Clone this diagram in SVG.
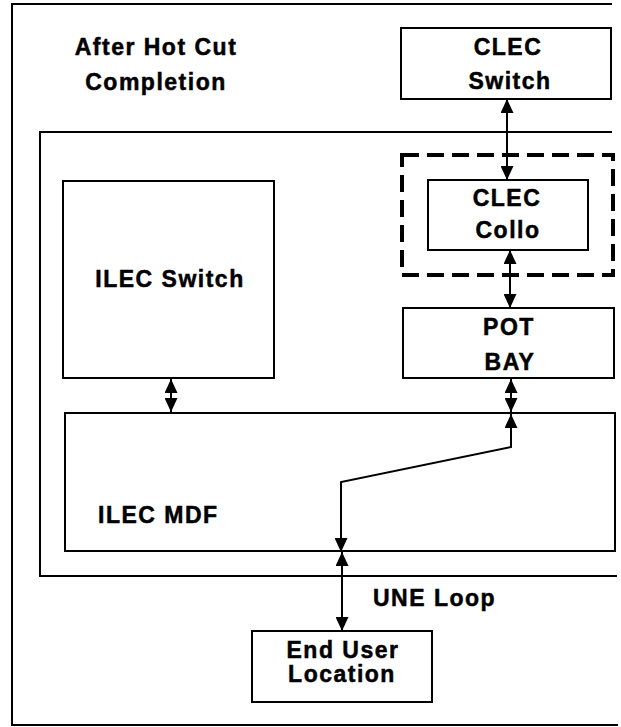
<svg xmlns="http://www.w3.org/2000/svg" width="621" height="727" viewBox="0 0 621 727">
  <style>
    .frame { fill: none; stroke: #000; stroke-width: 2; }
    .box { fill: #fff; stroke: #000; stroke-width: 2; }
    .dash { fill: none; stroke: #000; stroke-width: 4; stroke-dasharray: 17 8; }
    .lbl { font-family: "Liberation Sans", Arial, Helvetica, sans-serif; font-weight: bold; font-size: 23px; letter-spacing: 1.5px; fill: #000; stroke: #000; stroke-width: 0.5px; }
    .mid { text-anchor: middle; }
    .conn { fill: none; stroke: #000; stroke-width: 2; }
  </style>
  <defs>
    <marker id="ah" viewBox="0 0 14 13" refX="14" refY="6.5" markerWidth="14" markerHeight="13" markerUnits="userSpaceOnUse" orient="auto-start-reverse">
      <path d="M0,0 L14,6.5 L0,13 z" fill="#000"/>
    </marker>
  </defs>
  <rect width="621" height="727" fill="#fff"/>

  <g id="outer-frame">
    <path class="frame" d="M612,4 L12,4 L12,725 L618,725"/>
  </g>
  <g id="title">
    <text class="lbl mid" x="156" y="55">After Hot Cut</text>
    <text class="lbl mid" x="156" y="90">Completion</text>
  </g>
  <g id="ilec-building">
    <path class="frame" d="M612,132 L40,132 L40,576 L617,576"/>
  </g>
  <g id="clec-switch">
    <rect class="box" x="401" y="28" width="210" height="71"/>
    <text class="lbl mid" x="508" y="55">CLEC</text>
    <text class="lbl mid" x="510" y="89">Switch</text>
  </g>
  <g id="collo-boundary">
    <rect class="dash" x="402" y="155" width="211" height="120"/>
  </g>
  <g id="clec-collo">
    <rect class="box" x="428" y="180" width="160" height="70"/>
    <text class="lbl mid" x="507" y="206">CLEC</text>
    <text class="lbl mid" x="508" y="238">Collo</text>
  </g>
  <g id="ilec-switch">
    <rect class="box" x="63" y="181" width="211" height="197"/>
    <text class="lbl mid" x="170" y="287">ILEC Switch</text>
  </g>
  <g id="pot-bay">
    <rect class="box" x="403" y="308" width="211" height="70"/>
    <text class="lbl mid" x="509" y="335">POT</text>
    <text class="lbl mid" x="510" y="370">BAY</text>
  </g>
  <g id="ilec-mdf">
    <rect class="box" x="65" y="413" width="550" height="138"/>
    <text class="lbl" x="98" y="523">ILEC MDF</text>
  </g>
  <g id="end-user">
    <rect class="box" x="252" y="631" width="180" height="71"/>
    <text class="lbl mid" x="343" y="658">End User</text>
    <text class="lbl mid" x="342" y="682">Location</text>
  </g>
  <g id="connectors">
    <line class="conn" x1="507" y1="99" x2="507" y2="180" marker-start="url(#ah)" marker-end="url(#ah)"/>
    <line class="conn" x1="510" y1="250" x2="510" y2="308" marker-start="url(#ah)" marker-end="url(#ah)"/>
    <line class="conn" x1="171" y1="379" x2="171" y2="412" marker-start="url(#ah)" marker-end="url(#ah)"/>
    <line class="conn" x1="511" y1="379" x2="511" y2="412" marker-start="url(#ah)" marker-end="url(#ah)"/>
    <polyline class="conn" points="511,414 511,447 341,482 341,552" marker-start="url(#ah)" marker-end="url(#ah)"/>
    <line class="conn" x1="342" y1="552" x2="342" y2="631" marker-start="url(#ah)" marker-end="url(#ah)"/>
    <text class="lbl" x="373" y="606">UNE Loop</text>
  </g>
</svg>
